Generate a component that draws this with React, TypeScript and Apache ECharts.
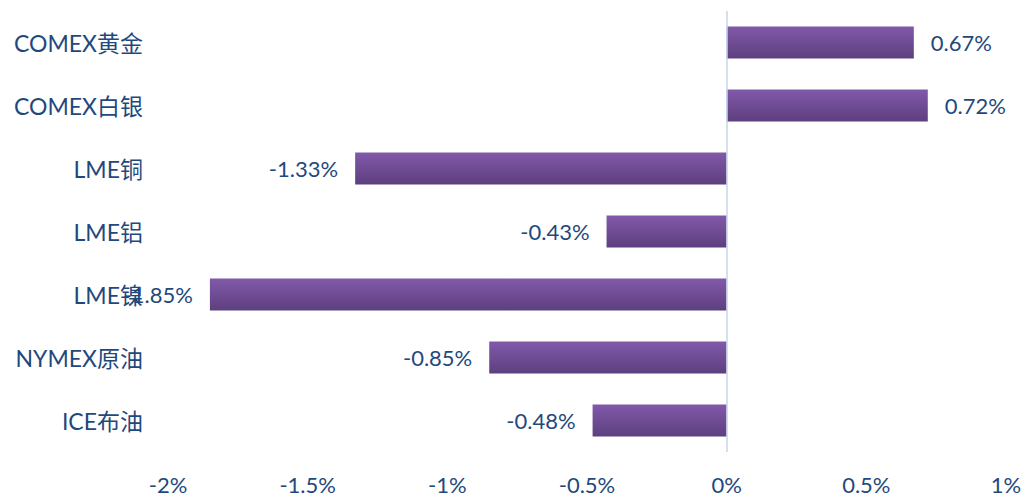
import * as echarts from 'echarts';
import { useEffect, useRef } from 'react';

const categories = ['COMEX黄金', 'COMEX白银', 'LME铜', 'LME铝', 'LME镍', 'NYMEX原油', 'ICE布油'];
const changes = [0.67, 0.72, -1.33, -0.43, -1.85, -0.85, -0.48];
const axisMin = -2;
const axisMax = 1;
const axisStep = 0.5;

const textColor = '#1f497d';
const fontFamily = 'Lato, "Noto Sans CJK SC", sans-serif';

const App: React.FC = () => {
  const chartRef = useRef<HTMLDivElement>(null);

  useEffect(() => {
    if (!chartRef.current) return;
    document.body.style.margin = '0';

    const mychart = echarts.init(chartRef.current, undefined, { renderer: 'svg' });

    const barColor = new echarts.graphic.LinearGradient(0, 0, 0, 1, [
      { offset: 0, color: '#8159aa' },
      { offset: 1, color: '#5d3f7e' }
    ]);

    const option = {
      animation: false,
      textStyle: { fontFamily },
      grid: {
        left: 168,
        right: 23,
        top: 11,
        bottom: 44,
        containLabel: false
      },
      xAxis: {
        type: 'value',
        min: axisMin,
        max: axisMax,
        interval: axisStep,
        axisLine: { show: false },
        axisTick: { show: false },
        splitLine: { show: false },
        axisLabel: {
          margin: 20,
          fontSize: 22,
          lineHeight: 24,
          color: textColor,
          fontFamily,
          formatter: (v: number) => `${v}%`
        }
      },
      yAxis: {
        type: 'category',
        data: categories,
        inverse: true,
        axisLine: { show: false },
        axisTick: { show: false },
        axisLabel: {
          margin: 25,
          fontSize: 23,
          color: textColor,
          fontFamily
        }
      },
      series: [
        {
          type: 'bar',
          barWidth: 32,
          itemStyle: { color: barColor },
          data: changes.map((v) => ({
            value: v,
            label: { position: v < 0 ? 'left' : 'right' }
          })),
          label: {
            show: true,
            distance: 17,
            fontSize: 22,
            color: textColor,
            fontFamily,
            formatter: (p: any) => `${p.value.toFixed(2)}%`
          },
          markLine: {
            silent: true,
            symbol: 'none',
            label: { show: false },
            lineStyle: { color: '#c6d6ec', width: 1.5, type: 'solid' },
            data: [{ xAxis: 0 }]
          }
        }
      ]
    };
    mychart.setOption(option as any);

    return () => {
      if (!mychart.isDisposed()) {
        mychart.dispose();
      }
    };
  }, []);

  return <div ref={chartRef} style={{ width: '1029px', height: '496px' }} />;
};

export default App;
